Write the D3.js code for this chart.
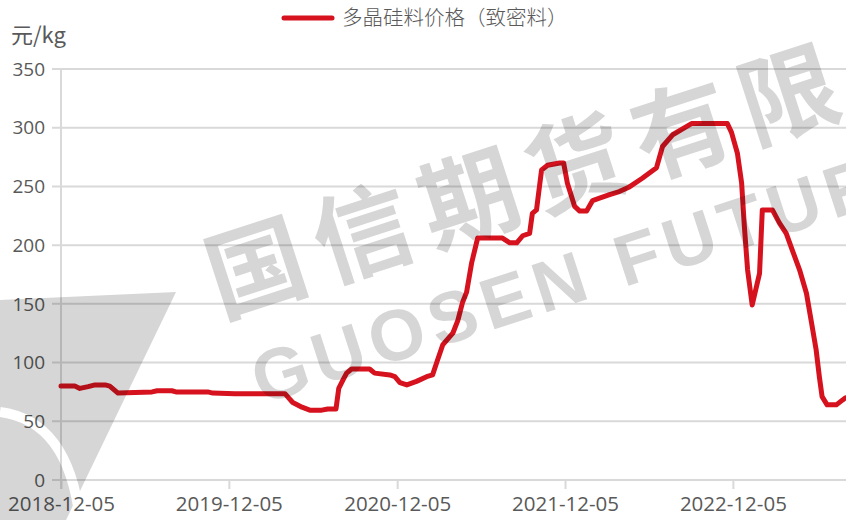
<!DOCTYPE html>
<html><head><meta charset="utf-8">
<script src="https://cdn.jsdelivr.net/npm/d3@7"></script>
<style>
html,body{margin:0;padding:0;background:#fff;overflow:hidden}
svg{display:block}
.wm{mix-blend-mode:multiply}
</style></head>
<body>
<svg id="c" width="846" height="520"></svg>
<script>
const seriesName = "多晶硅料价格（致密料）";
const unitLabel = "元/kg";
const dates = ["2018-12-05","2019-01-04","2019-01-15","2019-02-02","2019-02-17","2019-03-11","2019-03-21","2019-03-30","2019-04-08","2019-06-21","2019-07-02","2019-08-03","2019-08-12","2019-10-20","2019-10-31","2019-12-18","2020-04-05","2020-04-13","2020-04-22","2020-05-12","2020-05-29","2020-06-24","2020-07-07","2020-07-25","2020-07-31","2020-08-09","2020-08-17","2020-08-28","2020-10-06","2020-10-17","2020-11-19","2020-11-30","2020-12-11","2020-12-26","2021-01-16","2021-02-07","2021-02-20","2021-03-01","2021-03-14","2021-04-05","2021-04-16","2021-04-26","2021-05-05","2021-05-16","2021-05-29","2021-07-22","2021-08-07","2021-08-22","2021-09-04","2021-09-19","2021-09-25","2021-10-04","2021-10-15","2021-10-28","2021-11-23","2021-12-02","2021-12-10","2021-12-26","2022-01-06","2022-01-21","2022-02-03","2022-02-18","2022-03-12","2022-04-02","2022-04-24","2022-05-22","2022-06-22","2022-07-05","2022-07-27","2022-08-26","2022-09-06","2022-11-23","2022-12-02","2022-12-15","2022-12-24","2022-12-30","2023-01-06","2023-01-16","2023-02-01","2023-02-07","2023-03-01","2023-03-16","2023-03-31","2023-04-13","2023-04-29","2023-05-14","2023-05-25","2023-06-04","2023-06-11","2023-06-17","2023-06-28","2023-07-18","2023-07-31","2023-08-07"];
const prices = [80,80,78,79.5,81,81,80,77,74,75,76,76,75,75,74,73.5,73.5,70,66,62,59.5,59.5,60.5,60.5,78,85,91,94.5,94.5,91,89.5,88,83,81,84,88,89.5,100,115,125,136,151,160,185,206,206,202,202,208,210,227,230,264,268,270,270,253,233,229,229,238,240,243,245.6,249.6,257,266,284,294,301,303.5,303.5,296,278,253,216,179,149,176,230,230,219,210,196,179,159,134,111,88,71,64,64,68,70];
const yTicks = [0,50,100,150,200,250,300,350];
const xTickLabels = ["2018-12-05","2019-12-05","2020-12-05","2021-12-05","2022-12-05"];
const domainEnd = "2023-08-08";

const parse = d3.utcParse("%Y-%m-%d");
const data = dates.map((d,i)=>({date:parse(d), v:prices[i]}));
const svg = d3.select("#c");
const x = d3.scaleUtc().domain([parse(dates[0]), parse(domainEnd)]).range([61, 846]);
const y = d3.scaleLinear().domain([0,350]).range([480,69]);
const txt = "#595959", grid = "#d9d9d9";
const numFont = "'Open Sans', sans-serif";
const red = "#d5121e";

// gridlines + y labels
const gy = svg.append("g");
gy.selectAll("line").data(yTicks).join("line")
  .attr("x1",52).attr("x2",846)
  .attr("y1",d=>y(d)).attr("y2",d=>y(d))
  .attr("stroke",grid).attr("stroke-width",2);
gy.selectAll("text").data(yTicks).join("text")
  .attr("x",45).attr("y",d=>y(d)).attr("dy","0.35em")
  .attr("text-anchor","end").attr("fill",txt)
  .style("font-family",numFont).style("font-size","19px")
  .text(d=>d);
svg.append("line").attr("x1",61).attr("x2",61).attr("y1",y(350)).attr("y2",489)
  .attr("stroke",grid).attr("stroke-width",2);

// x axis
const xAxis = d3.axisBottom(x).tickValues(xTickLabels.map(parse))
  .tickFormat(d3.utcFormat("%Y-%m-%d")).tickSize(9).tickPadding(7);
const gx = svg.append("g").attr("transform","translate(0,480)").call(xAxis);
gx.select(".domain").remove();
gx.selectAll(".tick line").attr("stroke",grid).attr("stroke-width",2);
gx.selectAll(".tick text").attr("fill",txt).style("font-family",numFont).style("font-size","20.5px");

// line
const line = d3.line().x(d=>x(d.date)).y(d=>y(d.v)).curve(d3.curveLinear);
svg.append("path").datum(data).attr("d",line).attr("fill","none")
  .attr("stroke",red).attr("stroke-width",5)
  .attr("stroke-linejoin","round").attr("stroke-linecap","round");

// legend
svg.append("line").attr("x1",284).attr("x2",332).attr("y1",18).attr("y2",18)
  .attr("stroke",red).attr("stroke-width",5).attr("stroke-linecap","round");
svg.append("text").attr("x",342).attr("y",18).attr("dy","0.35em").attr("fill",txt)
  .style("font-family","'Noto Sans CJK SC', sans-serif").style("font-weight",300).style("font-size","20.5px")
  .text(seriesName);
svg.append("text").attr("x",11).attr("y",35).attr("dy","0.35em").attr("fill",txt)
  .style("font-family","'Noto Sans CJK SC', sans-serif").style("font-weight",400).style("font-size","22px")
  .text(unitLabel);

// watermark
const wm = svg.append("g").attr("class","wm").attr("fill","#d6d6d6");
wm.append("path").attr("d","M0,300 L176,292 L66,520 L0,520 Z");
wm.append("path").attr("d","M0,412 C45,418 72,452 80,520").attr("fill","none").attr("stroke","#fff").attr("stroke-width",10);
wm.append("text").attr("transform","translate(636,146) rotate(-18)")
  .attr("text-anchor","middle").attr("dy","0.35em")
  .style("font-family","'Noto Sans CJK SC', sans-serif").style("font-weight",700)
  .style("font-size","98px").style("letter-spacing","14px")
  .text("国信期货有限公司");
wm.append("text").attr("transform","translate(620,262) rotate(-18)")
  .attr("text-anchor","middle").attr("dy","0.35em")
  .style("font-family","'Liberation Sans', sans-serif").style("font-weight",700)
  .style("font-size","72px").style("letter-spacing","7px")
  .text("GUOSEN FUTURES");
</script>
</body></html>
